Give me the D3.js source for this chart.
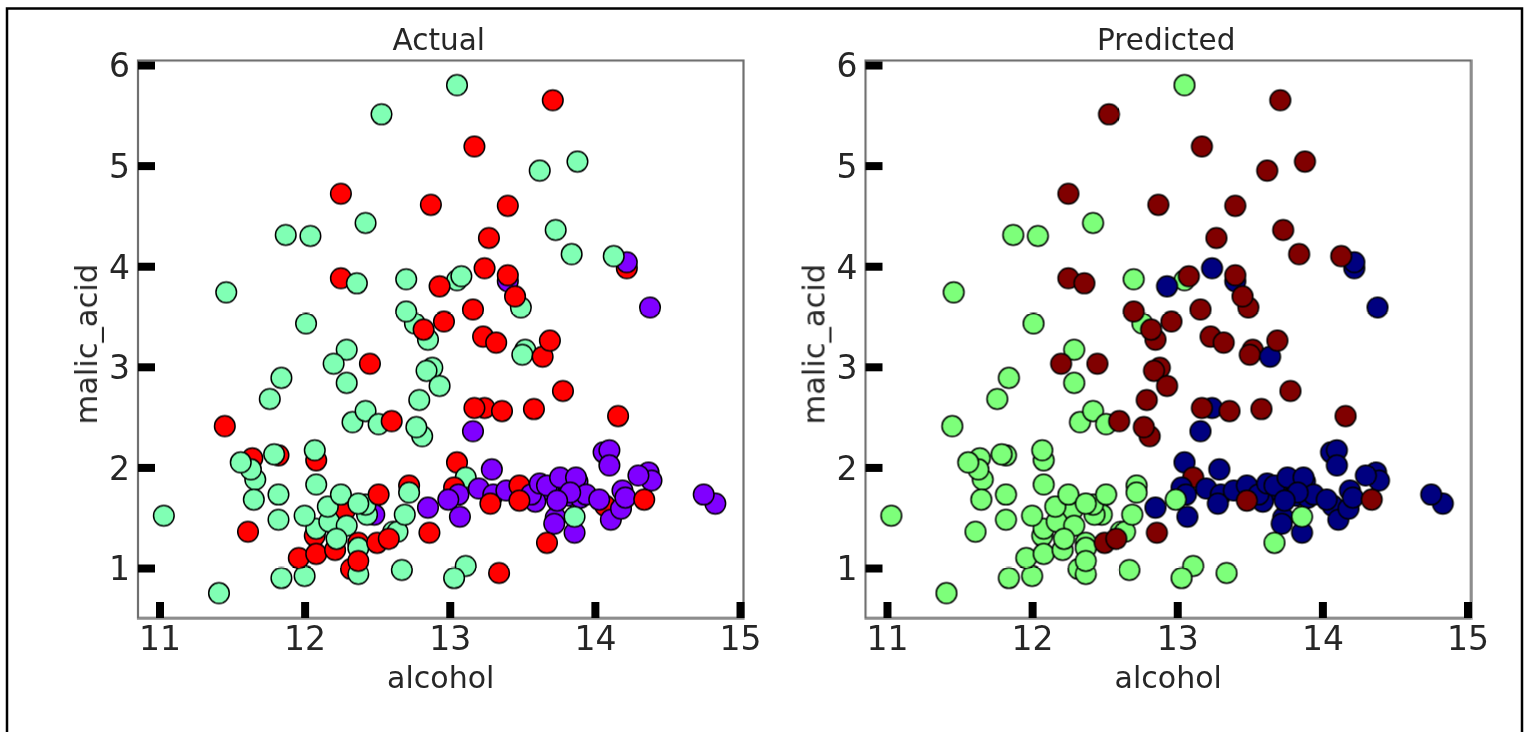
<!DOCTYPE html>
<html>
<head>
<meta charset="utf-8">
<title>Actual vs Predicted</title>
<script src="https://d3js.org/d3.v7.min.js"></script>
<style>
  html, body { margin: 0; padding: 0; background: #fff; overflow: hidden; }
  text { font-family: "DejaVu Sans", sans-serif; fill: #262626; }
</style>
</head>
<body>
<svg id="board" width="1528" height="732"></svg>
<script>
// one row per wine, in the order the points are stacked
var alcohol = [
  13.77, 13.82, 13.90, 13.73, 13.68, 13.88,
  14.22, 14.38, 13.40, 13.05, 13.08, 12.25, 12.36, 13.62, 13.88, 13.05, 12.53, 13.71,
  13.17, 12.42, 12.04, 11.87, 11.46, 14.22, 14.13, 13.27, 13.73, 13.84, 12.25, 12.87,
  13.40, 12.70, 12.93, 13.24, 13.40, 13.49, 13.45, 13.16, 12.96, 12.85, 12.76, 12.70,
  12.82, 13.23, 13.32, 13.52, 13.50, 13.64, 13.69, 12.29, 12.20, 12.45, 12.01, 12.29,
  12.88, 12.84, 12.93, 13.78, 11.84, 11.76, 11.45, 12.33, 12.42, 12.51, 12.60, 12.79,
  12.81, 12.77, 11.64, 11.66, 11.63, 11.56, 11.65, 11.82, 11.82, 11.82, 11.79, 12.08,
  12.07, 12.08, 11.03, 11.61, 11.41, 11.84, 12.00, 11.96, 12.07, 12.08, 12.08, 12.00,
  12.28, 12.17, 12.16, 12.25, 12.29, 12.21, 12.22, 12.48, 12.43, 12.42, 12.37, 12.51,
  12.37, 12.37, 12.32, 12.37, 12.37, 12.61, 12.64, 12.50, 12.58, 12.67, 12.69, 12.72,
  12.72, 12.85, 12.86, 13.24, 13.17, 13.36, 13.58, 14.16, 13.16, 13.05, 13.11, 13.29,
  13.03, 13.06, 12.99, 13.07, 13.20, 13.30, 13.28, 13.39, 13.48, 13.59, 13.56, 13.48,
  13.62, 13.67, 13.76, 13.87, 13.94, 13.83, 13.74, 14.07, 14.03, 13.86, 13.72, 13.86,
  13.67, 13.11, 13.03, 13.34, 14.06, 14.10, 14.10, 14.11, 14.18, 14.19, 14.21, 14.37,
  14.39, 14.30, 14.34, 14.83, 14.75
];
var malicAcid = [
  1.88, 1.72, 1.70, 1.50, 1.78, 1.86,
  3.98, 3.59, 3.85, 3.86, 3.90, 3.88, 3.83, 4.95, 5.04, 5.80, 5.51, 5.65,
  5.19, 4.43, 4.30, 4.31, 3.74, 4.04, 4.10, 4.28, 4.36, 4.12, 4.72, 4.61,
  4.60, 3.87, 3.80, 3.98, 3.91, 3.59, 3.70, 3.57, 3.45, 3.27, 3.43, 3.55,
  3.37, 3.30, 3.24, 3.17, 3.12, 3.10, 3.26, 3.17, 3.03, 3.03, 3.43, 2.84,
  2.99, 2.96, 2.81, 2.76, 2.89, 2.68, 2.41, 2.45, 2.56, 2.43, 2.46, 2.67,
  2.31, 2.40, 2.09, 1.88, 1.98, 2.05, 1.68, 1.73, 1.48, 2.12, 2.13, 2.07,
  2.17, 1.83, 1.52, 1.36, 0.75, 0.90, 0.92, 1.10, 1.32, 1.14, 1.39, 1.52,
  1.58, 1.46, 1.61, 1.73, 1.42, 1.18, 1.29, 1.53, 1.53, 1.63, 1.64, 1.73,
  1.25, 1.20, 0.99, 0.94, 1.07, 1.36, 1.36, 1.25, 1.29, 0.98, 1.53, 1.82,
  1.75, 1.60, 1.35, 2.59, 2.59, 2.56, 2.58, 2.51, 2.36, 2.05, 1.90, 1.98,
  1.80, 1.73, 1.68, 1.51, 1.79, 1.73, 1.64, 1.77, 1.82, 1.66, 1.73, 1.67,
  1.84, 1.82, 1.90, 1.90, 1.73, 1.75, 1.67, 1.62, 1.68, 1.35, 1.44, 1.51,
  1.25, 1.02, 0.90, 0.95, 2.15, 2.17, 2.02, 1.48, 1.59, 1.77, 1.70, 1.95,
  1.87, 1.92, 1.68, 1.64, 1.73
];
// 0 = first class, 1 = second class, 2 = third class
var actualClass = [
  0, 0, 0, 0, 0, 0,
  2, 0, 0, 1, 1, 2, 1, 1, 1, 1, 1, 2,
  2, 1, 1, 1, 1, 0, 1, 2, 1, 1, 2, 2,
  2, 1, 2, 2, 2, 1, 2, 2, 2, 1, 1, 1,
  2, 2, 2, 1, 1, 2, 2, 1, 1, 2, 1, 1,
  1, 1, 1, 2, 1, 1, 2, 1, 1, 1, 2, 1,
  1, 1, 2, 1, 1, 1, 1, 1, 1, 2, 1, 2,
  1, 1, 1, 2, 1, 1, 1, 2, 2, 2, 1, 1,
  2, 1, 1, 1, 1, 2, 1, 0, 1, 1, 1, 2,
  2, 1, 2, 1, 2, 1, 1, 2, 2, 1, 1, 2,
  1, 0, 2, 2, 2, 2, 2, 2, 0, 2, 1, 0,
  2, 0, 0, 0, 0, 0, 2, 0, 2, 0, 0, 2,
  0, 0, 0, 0, 0, 0, 0, 2, 0, 0, 0, 1,
  2, 1, 1, 2, 0, 0, 0, 0, 0, 0, 0, 0,
  0, 0, 2, 0, 0
];
var predictedClass = [
  0, 0, 0, 0, 0, 0,
  0, 0, 0, 1, 2, 2, 2, 2, 2, 1, 2, 2,
  2, 1, 1, 1, 1, 0, 2, 2, 2, 2, 2, 2,
  2, 1, 0, 0, 2, 2, 2, 2, 2, 2, 1, 2,
  2, 2, 2, 2, 2, 0, 2, 1, 2, 2, 1, 1,
  2, 2, 2, 2, 1, 1, 1, 1, 1, 1, 2, 2,
  2, 2, 1, 1, 1, 1, 1, 1, 1, 1, 1, 1,
  1, 1, 1, 1, 1, 1, 1, 1, 1, 1, 1, 1,
  1, 1, 1, 1, 1, 1, 1, 1, 1, 1, 1, 1,
  1, 1, 1, 1, 1, 1, 1, 2, 2, 1, 1, 1,
  1, 0, 2, 0, 2, 2, 2, 2, 0, 0, 2, 0,
  0, 0, 1, 0, 0, 0, 0, 0, 0, 0, 0, 2,
  0, 0, 0, 0, 0, 0, 0, 0, 0, 0, 0, 1,
  1, 1, 1, 1, 0, 0, 0, 0, 0, 0, 0, 0,
  0, 0, 2, 0, 0
];

var xTicks = [11, 12, 13, 14, 15];
var yTicks = [1, 2, 3, 4, 5, 6];
var actualColors = ["#8000ff", "#80ffb4", "#ff0000"];
var predictedColors = ["#000080", "#7dff7a", "#800000"];

var svg = d3.select("#board");

// soft edge, the source picture is an enlarged screenshot
svg.append("defs").append("filter")
  .attr("id", "soft")
  .attr("x", "-2%").attr("y", "-2%").attr("width", "104%").attr("height", "104%")
  .append("feGaussianBlur")
  .attr("stdDeviation", 0.55);

// frame of the screenshot, open at the bottom
svg.append("path")
  .attr("d", "M7,732V8.5H1522V732")
  .attr("fill", "none")
  .attr("stroke", "#000")
  .attr("stroke-width", 2.5);

var draw_panel = function(left, title, colors, classes) {
  var width = 605.5, height = 557.5, top = 60.5;

  var x = d3.scaleLinear().domain([10.852, 15.024]).range([0, width]);
  var y = d3.scaleLinear().domain([0.503, 6.045]).range([height, 0]);
  var color = d3.scaleOrdinal().domain([0, 1, 2]).range(colors);

  var g = svg.append("g")
    .attr("transform", "translate(" + left + "," + top + ")")
    .attr("filter", "url(#soft)");

  g.selectAll("circle")
    .data(alcohol)
    .enter()
    .append("circle")
    .attr("cx", function(d) { return x(d); })
    .attr("cy", function(d, i) { return y(malicAcid[i]); })
    .attr("r", 10.3)
    .attr("fill", function(d, i) { return color(classes[i]); })
    .attr("stroke", "#000")
    .attr("stroke-width", 1.5);

  g.append("rect")
    .attr("width", width)
    .attr("height", height)
    .attr("fill", "none")
    .attr("stroke", "#707070")
    .attr("stroke-width", 2.2);

  var xAxis = g.append("g")
    .attr("transform", "translate(0," + height + ")")
    .call(d3.axisBottom(x).tickValues(xTicks).tickSize(-16).tickPadding(9).tickFormat(d3.format("d")));
  var yAxis = g.append("g")
    .call(d3.axisLeft(y).tickValues(yTicks).tickSize(-17).tickPadding(8).tickFormat(d3.format("d")));

  [xAxis, yAxis].forEach(function(axis) {
    axis.select(".domain").remove();
    axis.selectAll("line").attr("stroke", "#000").attr("stroke-width", 8);
    axis.selectAll("text").style("font-size", "33px").attr("fill", "#262626");
  });
  yAxis.selectAll("text").attr("dy", "0.36em");

  g.append("text")
    .attr("x", width / 2 - 2)
    .attr("y", -11)
    .attr("text-anchor", "middle")
    .style("font-size", "29.5px")
    .text(title);

  g.append("text")
    .attr("x", width / 2)
    .attr("y", 627)
    .attr("text-anchor", "middle")
    .style("font-size", "30px")
    .text("alcohol");

  g.append("text")
    .attr("transform", "translate(-41," + (height / 2 + 5) + ") rotate(-90)")
    .attr("text-anchor", "middle")
    .style("font-size", "30.5px")
    .text("malic_acid");
};

draw_panel(138, "Actual", actualColors, actualClass);
draw_panel(865.5, "Predicted", predictedColors, predictedClass);
</script>
</body>
</html>
